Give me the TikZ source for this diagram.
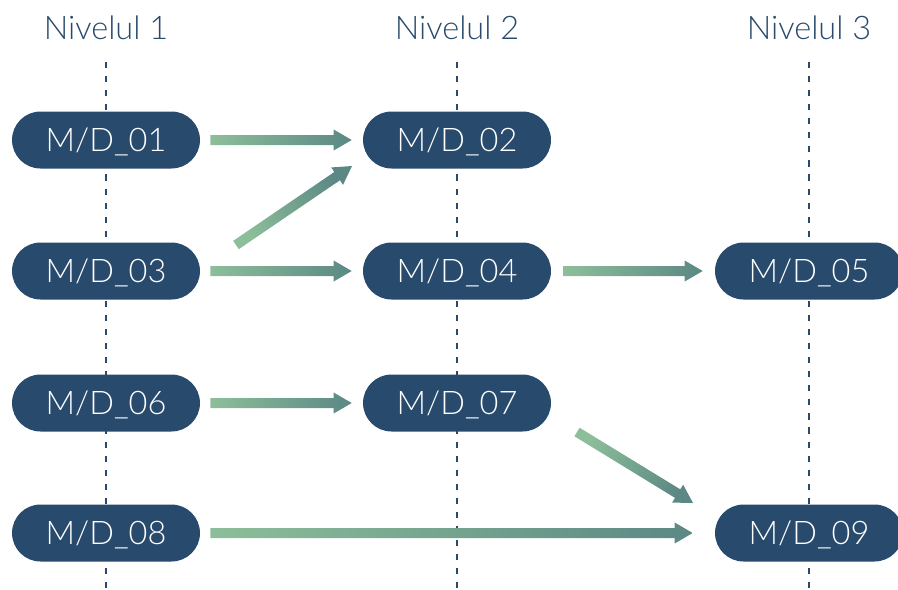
\documentclass[tikz,border=0pt]{standalone}
\usepackage{fontspec}
\setmainfont{Lato}[UprightFont=* Light]
\usetikzlibrary{calc,shapes.misc}

\definecolor{navy}{HTML}{284A6C}
\definecolor{flowlight}{HTML}{8DBE9A}
\definecolor{flowdark}{HTML}{5B8884}

\tikzset{
  module/.style={rounded rectangle, fill=navy, text=white, inner sep=0pt,
    text depth=0pt, minimum width=3.76cm, minimum height=1.14cm,
    font=\fontsize{18.5}{20}\selectfont},
  level/.style={text=navy, font=\fontsize{18.5}{20}\selectfont},
  guide/.style={navy, line width=1.3pt, dash pattern=on 3.5pt off 4.5pt},
}

% thick shaded arrow from #1 to #2
\newcommand{\flow}[2]{%
  \path let \p1=($(#2)-(#1)$), \n1={atan2(\y1,\x1)} in
    \pgfextra{\pgfmathparse{90+\n1}\xdef\flowangle{\pgfmathresult}};
  \coordinate (fh) at ($(#2)!0.36cm!(#1)$);
  \shade[left color=flowlight, right color=flowdark, shading angle=\flowangle]
    ($(#1)!0.1cm!90:(#2)$) -- ($(fh)!0.1cm!-90:(#1)$) -- ($(fh)!0.21cm!-90:(#1)$)
    -- (#2) -- ($(fh)!0.21cm!90:(#1)$) -- ($(fh)!0.1cm!90:(#1)$)
    -- ($(#1)!0.1cm!-90:(#2)$) -- cycle;
}

\begin{document}
\begin{tikzpicture}[x=0.02cm, y=-0.02cm]
  \useasboundingbox (0,0) rectangle (898,589);
  %%%%%%%%%%%%%%%%%%%%%%%%%%%%%%%%%%%%%%%%%%%%%%%
  \node[level] (h1) at (106,28)  {Nivelul 1};
  \node[level] (h2) at (457,28)  {Nivelul 2};
  \node[level] (h3) at (809,28)  {Nivelul 3};
  \foreach \x in {106,457,809}
    \draw[guide] (\x,62) -- (\x,589);
  %%%%%%%%%%%%%%%%%%%%%%%%%%%%%%%%%%%%%%%%%%%%%%%
  \node[module] (m01) at (106,140) {M/D\_01};
  \node[module] (m02) at (457,140) {M/D\_02};
  \node[module] (m03) at (106,271) {M/D\_03};
  \node[module] (m04) at (457,271) {M/D\_04};
  \node[module] (m05) at (809,271) {M/D\_05};
  \node[module] (m06) at (106,403) {M/D\_06};
  \node[module] (m07) at (457,403) {M/D\_07};
  \node[module] (m08) at (106,533) {M/D\_08};
  \node[module] (m09) at (809,533) {M/D\_09};
  %%%%%%%%%%%%%%%%%%%%%%%%%%%%%%%%%%%%%%%%%%%%%%%
  \coordinate (s01) at ([xshift=0.2cm]m01.east);
  \coordinate (e02) at ([xshift=-0.22cm]m02.west);
  \coordinate (s03) at ([xshift=0.2cm]m03.east);
  \coordinate (d03) at ([shift={(130,-26)}]m03.center);
  \coordinate (d02) at ([shift={(-105,26)}]m02.center);
  \coordinate (e04) at ([xshift=-0.22cm]m04.west);
  \coordinate (s04) at ([xshift=0.24cm]m04.east);
  \coordinate (e05) at ([xshift=-0.24cm]m05.west);
  \coordinate (s06) at ([xshift=0.2cm]m06.east);
  \coordinate (e07) at ([xshift=-0.22cm]m07.west);
  \coordinate (d07) at ([shift={(120,29)}]m07.center);
  \coordinate (d09) at ([shift={(-116,-30)}]m09.center);
  \coordinate (s08) at ([xshift=0.2cm]m08.east);
  \coordinate (e09) at ([xshift=-0.44cm]m09.west);
  \flow{s01}{e02}
  \flow{d03}{d02}
  \flow{s03}{e04}
  \flow{s04}{e05}
  \flow{s06}{e07}
  \flow{d07}{d09}
  \flow{s08}{e09}
\end{tikzpicture}
\end{document}
